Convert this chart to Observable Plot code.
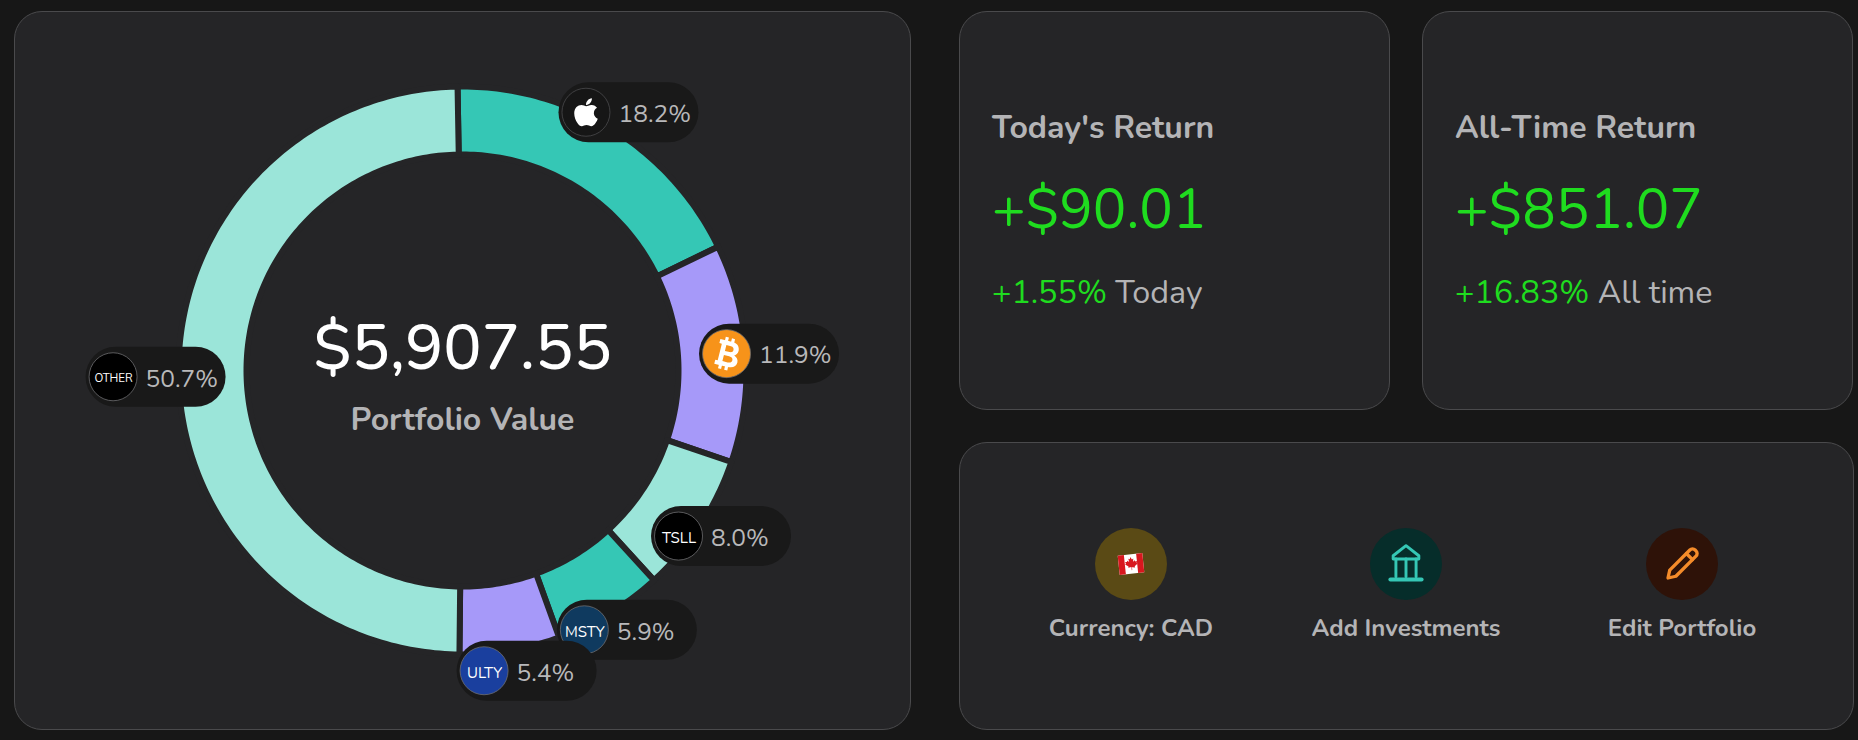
<!DOCTYPE html>
<html>
<head>
<meta charset="utf-8">
<script src="https://cdn.jsdelivr.net/npm/d3@7"></script>
<script src="https://cdn.jsdelivr.net/npm/@observablehq/plot@0.6"></script>
<style>
  html,body{margin:0;padding:0;width:1858px;height:740px;background:#171717;overflow:hidden;font-family:Nunito,"Noto Sans",sans-serif;}
  .card{position:absolute;box-sizing:border-box;background:#252527;border:1px solid #4a4a4c;border-radius:28px;}
  .abs{position:absolute;white-space:nowrap;line-height:1;}
  .title{font-size:32px;font-weight:700;color:#b4b4b6;}
  .amount{font-size:56px;font-weight:400;color:#1fdc1f;}
  .sub{font-size:32.3px;color:#b4b4b6;}
  .sub b{font-weight:400;color:#1fdc1f;}
  .act{position:absolute;top:85px;width:300px;text-align:center;}
  .act .ic{width:72px;height:72px;border-radius:50%;margin:0 auto;display:flex;align-items:center;justify-content:center;}
  .act .lb{margin-top:13px;font-size:24px;font-weight:700;color:#b4b4b6;line-height:30px;}
  #ring{position:absolute;left:14px;top:11px;}
</style>
</head>
<body>
<div class="card" style="left:14px;top:11px;width:897px;height:719px"></div>
<div id="ring"></div>

<div class="card" style="left:959px;top:11px;width:431px;height:399px">
  <div class="abs title" style="left:32px;top:100px">Today's Return</div>
  <div class="abs amount" style="left:32px;top:170px">+$90.01</div>
  <div class="abs sub" style="left:32px;top:264px"><b>+1.55%</b> Today</div>
</div>
<div class="card" style="left:1422px;top:11px;width:431px;height:399px">
  <div class="abs title" style="left:32px;top:100px">All-Time Return</div>
  <div class="abs amount" style="left:32px;top:170px">+$851.07</div>
  <div class="abs sub" style="left:32px;top:264px"><b>+16.83%</b> All time</div>
</div>

<div class="card" style="left:959px;top:442px;width:895px;height:288px">
  <div class="act" style="left:21px">
    <div class="ic" style="background:#5a4a15">
      <svg width="30" height="30" viewBox="0 0 34 34"><g transform="rotate(-6 17 17)"><rect x="3" y="6" width="28" height="22" fill="#fff"/><rect x="3" y="6" width="7" height="22" fill="#d8171e"/><rect x="24" y="6" width="7" height="22" fill="#d8171e"/><path d="M17 9l1.6 3 1.6-.8-.6 3.6 2-1.6.6 1.6 2-.4-.7 2.2 1 .6-3.6 2.8.4 1.4-3.6-.5V24h-.6v-3.5l-3.6.5.4-1.4-3.6-2.8 1-.6-.7-2.2 2 .4.6-1.6 2 1.6-.6-3.6 1.6.8z" fill="#d8171e"/></g></svg>
    </div>
    <div class="lb">Currency: CAD</div>
  </div>
  <div class="act" style="left:296px">
    <div class="ic" style="background:#062d2a">
      <svg width="44" height="44" viewBox="0 0 24 24" fill="none" stroke="#35c7b5" stroke-width="1.6" stroke-linejoin="round" stroke-linecap="round"><path d="M12 2 5 7.5v1.8h14V7.500z"/><path d="M6.500 9.300v9.700M12 9.300v9.700M17.500 9.300v9.700"/><path d="M3.500 20.500h17" stroke-width="2.200"/></svg>
    </div>
    <div class="lb">Add Investments</div>
  </div>
  <div class="act" style="left:572px">
    <div class="ic" style="background:#2e1208">
      <svg width="42" height="42" viewBox="0 0 24 24" fill="none" stroke="#f58c2a" stroke-width="1.9" stroke-linejoin="round" stroke-linecap="round"><path d="M4 20l1-4.500L16.500 4a2.100 2.100 0 0 1 3 0l.5.5a2.100 2.100 0 0 1 0 3L8.500 19z"/><path d="M14.500 6l3.500 3.500"/></svg>
    </div>
    <div class="lb">Edit Portfolio</div>
  </div>
</div>

<script>
const holdings = ["AAPL", "BTC", "TSLL", "MSTY", "ULTY", "OTHER"];
const shares = [18.2, 11.9, 8.0, 5.9, 5.4, 50.7];
const drawnShares = [18.1, 12.4, 8.0, 6.25, 5.7, 49.55];
const sliceColors = ["#35c7b5", "#a699f9", "#9be5d9", "#35c7b5", "#a699f9", "#9be5d9"];
const badgeColors = ["#161616", "#f7931a", "#000000", "#0f3a5f", "#1a3f9e", "#000000"];
const badgeText = ["", "", "TSLL", "MSTY", "ULTY", "OTHER"];
const totalValue = "$5,907.55";
const totalLabel = "Portfolio Value";

const appleIcon = "data:image/svg+xml," + encodeURIComponent('<svg xmlns="http://www.w3.org/2000/svg" viewBox="0 0 384 512"><path fill="#fff" d="M318.7 268.7c-.2-36.7 16.4-64.4 50-84.8-18.8-26.9-47.2-41.7-84.7-44.6-35.5-2.8-74.3 20.7-88.5 20.7-15 0-49.4-19.7-76.4-19.7C63.3 141.2 4 184.8 4 273.5q0 39.3 14.4 81.2c12.8 36.7 59 126.7 107.2 125.2 25.2-.6 43-17.9 75.8-17.9 31.8 0 48.3 17.9 76.4 17.9 48.6-.7 90.4-82.5 102.6-119.3-65.2-30.7-61.7-90-61.7-91.9zm-56.6-164.2c27.3-32.4 24.8-61.9 24-72.5-24.1 1.4-52 16.4-67.9 34.9-17.5 19.8-27.8 44.3-25.6 71.9 26.1 2 49.9-11.4 69.5-34.3z"/></svg>');
const btcIcon = "data:image/svg+xml," + encodeURIComponent('<svg xmlns="http://www.w3.org/2000/svg" viewBox="0 0 24 24"><g transform="rotate(14 12 12)" fill="#fff"><path fill-rule="evenodd" d="M6 4H14C18 4 19 7 19 8.4C19 10.4 18 11.4 17 12C18.8 12.6 20 14 20 15.8C20 18.5 18 20 14.500 20H6V17.4H7.6V6.6H6ZM10.600 6.800V10.600H13.600C15 10.600 15.700 9.800 15.700 8.700C15.700 7.600 15 6.800 13.600 6.800ZM10.600 13.200V17.200H14C15.700 17.200 16.600 16.400 16.600 15.200C16.600 14 15.700 13.200 14 13.200Z"/><rect x="9" y="1.8" width="2" height="3"/><rect x="13" y="1.8" width="2" height="3"/><rect x="9" y="19.2" width="2" height="3"/><rect x="13" y="19.2" width="2" height="3"/></g></svg>');
const badgeIcons = [appleIcon, btcIcon, null, null, null, null];

const outerR = 284, innerR = 216, labelR = 307;
const deg = Math.PI / 180;
const arcs = d3.pie().sort(null).value(d => d)(shares);
const drawnArcs = d3.pie().sort(null).value(d => d).startAngle(-deg).endAngle(359 * deg)(drawnShares);
const at = (a, r) => [r * Math.sin(a), r * Math.cos(a)];

const ringMark = (arc, i) => {
  const steps = d3.range(arc.startAngle, arc.endAngle, deg).concat(arc.endAngle);
  const pts = [...steps.map(a => at(a, outerR)), ...steps.reverse().map(a => at(a, innerR))];
  return Plot.line(pts, {x: "0", y: "1", curve: "linear-closed", fill: sliceColors[i], stroke: "#252527", strokeWidth: 6});
};

const badges = arcs.flatMap((arc, i) => {
  const [px, py] = at((arc.startAngle + arc.endAngle) / 2, labelR);
  const d = [{px, py, share: shares[i].toFixed(1) + "%", tag: badgeText[i], src: badgeIcons[i], holding: holdings[i]}];
  const marks = [
    Plot.link(d, {x1: v => v.px - 40, x2: v => v.px + 40, y1: "py", y2: "py", stroke: "#191919", strokeWidth: 60, strokeLinecap: "round"}),
    Plot.dot(d, {x: "px", y: "py", dx: -42.5, r: 24, fill: badgeColors[i], stroke: i === 0 ? "#4a4a4c" : "#6d6d70", strokeWidth: 0.8}),
    Plot.text(d, {x: "px", y: "py", dx: -10, dy: 2, text: "share", textAnchor: "start", fontSize: 24.5, fill: "#b8b8ba"})
  ];
  if (badgeIcons[i]) {
    const s = i === 0 ? 32 : 38;
    marks.push(Plot.image(d, {x: "px", y: "py", dx: -42.5, width: s, height: s, src: "src"}));
  } else {
    marks.push(Plot.text(d, {x: "px", y: "py", dx: -42, dy: 2, text: "tag", fontSize: i === 5 ? 11.5 : 15, fill: "#ffffff"}));
  }
  return marks;
});

const chart = Plot.plot({
  width: 896, height: 718, margin: 0,
  x: {domain: [-448, 448], axis: null},
  y: {domain: [-359, 359], axis: null},
  style: {background: "transparent", fontFamily: 'Nunito,"Noto Sans",sans-serif', overflow: "visible"},
  marks: [
    ...drawnArcs.map(ringMark),
    ...badges,
    Plot.text([totalValue], {frameAnchor: "middle", dy: -22, fontSize: 64, fill: "#ffffff", fontWeight: 500}),
    Plot.text([totalLabel], {frameAnchor: "middle", dy: 49, fontSize: 32, fill: "#b4b4b6", fontWeight: 700})
  ]
});
document.getElementById("ring").append(chart);
</script>
</body>
</html>
